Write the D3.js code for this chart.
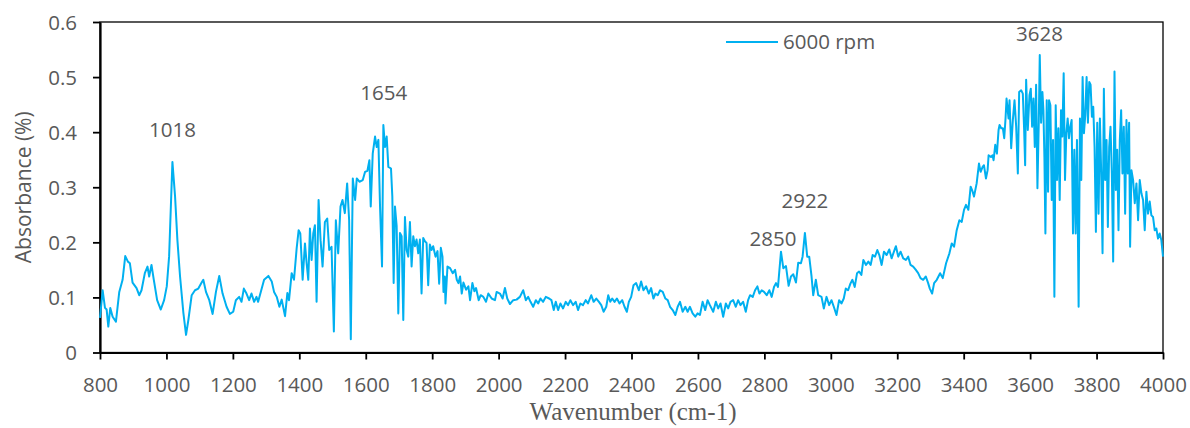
<!DOCTYPE html>
<html>
<head>
<meta charset="utf-8">
<script src="https://cdn.jsdelivr.net/npm/d3@7"></script>
<style>
	body { margin: 0; background: #fff; }
	text { font-family: "Open Sans", "Noto Sans", sans-serif; fill: #595959; }
</style>
</head>
<body>
<svg id="chart_view"></svg>
<script>
let view_width = 1190;
let view_height = 428;
let view_margin = {left: 100, right: 27, top: 22, bottom: 75.5};

let line_color = '#00B0F0';
let series_name = '6000 rpm';

// wavenumber (cm-1)
let wavenumbers = [
	800, 808, 815, 820, 825, 831, 838, 848, 858, 868, 876, 884, 890, 898, 910, 918, 925, 935, 943, 948,
	955, 962, 972, 983, 993, 1001, 1008, 1018, 1026, 1033, 1041, 1051, 1059, 1066, 1076, 1086, 1096, 1106, 1111, 1119,
	1129, 1139, 1149, 1159, 1169, 1181, 1191, 1201, 1209, 1219, 1226, 1233, 1241, 1249, 1256, 1264, 1271, 1276, 1284, 1294,
	1307, 1317, 1324, 1332, 1340, 1347, 1357, 1364, 1369, 1377, 1384, 1392, 1398, 1403, 1410, 1417, 1422, 1427, 1432, 1437,
	1442, 1447, 1452, 1458, 1464, 1470, 1477, 1484, 1490, 1497, 1504, 1510, 1517, 1524, 1530, 1537, 1544, 1550, 1555, 1561,
	1568, 1573, 1581, 1591, 1598, 1605, 1611, 1615, 1621, 1628, 1633, 1638, 1643, 1649, 1653, 1658, 1663,
	1668, 1676, 1680, 1684, 1688, 1693, 1698, 1703, 1708, 1713, 1718, 1723, 1728, 1733, 1738, 1743, 1748, 1753, 1758, 1763,
	1768, 1773, 1778, 1783, 1788, 1793, 1798, 1803, 1810, 1816, 1821, 1826, 1831, 1834, 1838,
	1840, 1846, 1854, 1862, 1869, 1874, 1879, 1884, 1889, 1894, 1902, 1909, 1914, 1921, 1927, 1932, 1940, 1946, 1954, 1962,
	1969, 1979, 1989, 1994, 2004, 2012, 2019, 2026, 2034, 2044, 2054, 2064, 2074, 2082, 2089, 2096, 2104, 2112, 2119, 2126,
	2134, 2142, 2152, 2159, 2166, 2172, 2179, 2186, 2194, 2202, 2209, 2216, 2224, 2232, 2239, 2246, 2254, 2262, 2269, 2279,
	2286, 2294, 2302, 2309, 2316, 2324, 2330, 2336, 2342, 2349, 2356, 2364, 2372, 2379, 2386, 2392, 2399, 2406, 2414, 2422,
	2429, 2436, 2444, 2452, 2459, 2466, 2472, 2479, 2486, 2494, 2502, 2509, 2516, 2524, 2532, 2539, 2546, 2554, 2562, 2569,
	2576, 2584, 2592, 2599, 2606, 2614, 2622, 2629, 2636, 2646, 2654, 2661, 2668, 2676, 2684, 2691, 2698, 2706, 2714, 2721,
	2728, 2736, 2744, 2751, 2757, 2765, 2772, 2779, 2785, 2792, 2799, 2807, 2815, 2822, 2829, 2835, 2841, 2847,
	2850, 2857, 2865, 2873, 2880, 2887, 2895, 2902, 2910, 2915, 2922, 2929, 2935, 2942, 2947, 2955, 2962, 2972, 2979, 2987,
	2995, 3002, 3009, 3017, 3025, 3032, 3039, 3045, 3052, 3059, 3065, 3072, 3079, 3085, 3092, 3098, 3106, 3113, 3120, 3126,
	3133, 3140, 3146, 3153, 3160, 3168, 3176, 3183, 3190, 3196, 3203, 3210, 3218, 3226, 3233, 3240, 3248, 3256, 3263, 3270,
	3278, 3286, 3293, 3298, 3305, 3311, 3319, 3329, 3337, 3347, 3357, 3364, 3371, 3379, 3387, 3394, 3401, 3407, 3414, 3421,
	3427, 3431, 3439, 3446, 3451, 3457, 3461, 3467, 3472, 3475, 3482, 3487, 3490, 3495, 3500, 3505, 3508, 3513, 3518, 3522,
	3526, 3529, 3535, 3538, 3543, 3548, 3553, 3558, 3563, 3567, 3573, 3578, 3582, 3585, 3588, 3593, 3598, 3602, 3606, 3610,
	3614, 3618, 3622, 3626, 3629, 3633, 3637, 3640, 3643, 3646, 3650, 3654, 3657, 3661, 3665, 3669, 3673, 3677, 3681, 3685,
	3689, 3693, 3697, 3701, 3705, 3709, 3713, 3717, 3721, 3725, 3729, 3733, 3737, 3741, 3746, 3750, 3754, 3758, 3762, 3766,
	3770, 3774, 3778, 3782, 3786, 3790, 3794, 3798, 3802, 3806, 3810, 3814, 3818, 3822, 3826, 3830, 3834, 3838, 3842, 3846,
	3850, 3854, 3858, 3862, 3866, 3870, 3874, 3878, 3882, 3886, 3890, 3894, 3898, 3901, 3905, 3910, 3915, 3920, 3925, 3930,
	3935, 3940, 3945, 3950, 3955, 3960, 3965, 3970, 3975, 3980, 3985, 3990, 3995, 4000
];

// absorbance, same order as wavenumbers
let absorbance = [
	.063, .113, .081, .078, .047, .081, .065, .056, .110, .132, .175, .165, .162, .127, .117, .104, .113, .144, .156, .138,
	.159, .132, .095, .078, .095, .120, .174, .346, .283, .204, .138, .072, .032, .059, .104, .113, .116, .127, .132, .110,
	.095, .070, .110, .139, .107, .083, .070, .074, .095, .101, .092, .116, .107, .095, .107, .092, .101, .092, .110, .132,
	.139, .129, .110, .101, .083, .096, .066, .108, .095, .144, .132, .189, .222, .216, .132, .198, .162, .132, .225, .168,
	.216, .231, .092, .277, .204, .156, .237, .243, .186, .192, .038, .240, .180, .265, .277, .253, .307, .240, .024, .316,
	.277, .316, .310, .313, .328, .330, .349, .265, .361, .392, .373, .386, .265, .156, .413, .373, .392,
	.337, .334, .283, .126, .265, .230, .071, .217, .211, .059, .246, .186, .174, .237, .156, .211, .193, .205, .180, .205,
	.107, .208, .202, .199, .122, .196, .186, .193, .174, .184, .125, .190, .174, .110, .138,
	.089, .156, .153, .144, .150, .132, .126, .138, .107, .127, .114, .120, .095, .126, .111, .117, .095, .104, .101, .092,
	.107, .098, .095, .110, .107, .098, .117, .098, .088, .095, .096, .101, .113, .095, .101, .092, .083, .095, .089, .098,
	.092, .101, .098, .095, .077, .092, .077, .089, .080, .092, .086, .095, .086, .092, .077, .089, .086, .095, .089, .104,
	.092, .098, .092, .086, .074, .083, .104, .092, .098, .092, .098, .089, .095, .083, .074, .092, .101, .122, .126, .113,
	.129, .113, .120, .107, .117, .098, .107, .104, .113, .110, .098, .095, .083, .077, .068, .083, .092, .074, .083, .074,
	.083, .071, .065, .071, .068, .092, .077, .095, .086, .074, .092, .080, .089, .065, .089, .080, .092, .095, .083, .095,
	.086, .092, .074, .095, .104, .101, .113, .120, .107, .113, .110, .104, .113, .101, .119, .126, .119, .162,
	.183, .153, .157, .121, .138, .142, .127, .163, .162, .174, .217, .174, .174, .138, .104, .132, .104, .101, .080, .101,
	.086, .095, .083, .068, .095, .089, .098, .116, .113, .125, .132, .119, .144, .147, .141, .168, .159, .165, .159, .177,
	.174, .186, .177, .159, .183, .177, .187, .171, .183, .193, .174, .183, .171, .168, .174, .159, .156, .150, .144, .135,
	.132, .138, .126, .116, .107, .126, .132, .144, .135, .162, .180, .198, .192, .222, .240, .237, .259, .268, .259, .301,
	.292, .283, .307, .343, .328, .337, .340, .316, .331, .358, .355, .358, .349, .377, .361, .404, .413, .407, .407, .389,
	.425, .461, .425, .458, .371, .422, .458, .410, .325, .473, .476, .470, .404, .340, .495, .404, .467, .479, .410, .461,
	.373, .486, .298, .417, .540, .417, .473, .440, .355, .216, .458, .292, .458, .449, .277, .386, .101, .449, .313, .407,
	.277, .440, .392, .507, .313, .398, .425, .389, .410, .422, .216, .368, .216, .386, .083, .425, .313, .500, .398, .431,
	.500, .417, .491, .486, .428, .446, .373, .219, .417, .252, .425, .325, .180, .479, .313, .386, .228, .373, .410, .325,
	.165, .510, .295, .368, .222, .386, .440, .325, .410, .252, .422, .325, .417, .192, .331, .313, .271, .307, .240, .313,
	.289, .277, .222, .292, .252, .274, .249, .246, .222, .225, .207, .216, .204, .174
];

// peak labels
let peak_labels = ['1018', '1654', '2850', '2922', '3628'];
let peak_x = [1018, 1654, 2826, 2922, 3628];
let peak_y = [0.392, 0.458, 0.193, 0.262, 0.565];

let x_ticks = d3.range(800, 4001, 200);
let y_ticks = [0, 0.1, 0.2, 0.3, 0.4, 0.5, 0.6];

let plot_width = view_width - view_margin.left - view_margin.right;
let plot_height = view_height - view_margin.top - view_margin.bottom;

let x_scale = d3.scaleLinear()
	.domain([800, 4000])
	.range([view_margin.left, view_margin.left + plot_width]);

let y_scale = d3.scaleLinear()
	.domain([0, 0.6])
	.range([view_margin.top + plot_height, view_margin.top]);

let view = d3.select('#chart_view')
	.attr('width', view_width)
	.attr('height', view_height);

// frame on top and right
view.append('rect')
	.attr('x', view_margin.left)
	.attr('y', view_margin.top)
	.attr('width', plot_width)
	.attr('height', plot_height)
	.attr('fill', 'none')
	.attr('stroke', '#000')
	.attr('stroke-width', 1.3);

let x_axis = view.append('g')
	.attr('transform', `translate(0, ${view_margin.top + plot_height})`)
	.call(d3.axisBottom(x_scale).tickValues(x_ticks).tickSize(7).tickSizeOuter(0).tickFormat(d3.format('d')));

let y_axis = view.append('g')
	.attr('transform', `translate(${view_margin.left}, 0)`)
	.call(d3.axisLeft(y_scale).tickValues(y_ticks).tickSize(7).tickSizeOuter(0).tickFormat(d => d === 0 ? '0' : d3.format('.1f')(d)));

[x_axis, y_axis].forEach(function(ax) {
	ax.select('.domain').attr('stroke', '#000').attr('stroke-width', 2.2);
	ax.selectAll('.tick line').attr('stroke', '#000').attr('stroke-width', 1.8);
	ax.selectAll('.tick text')
		.attr('font-family', '"Open Sans", sans-serif')
		.attr('font-size', 20.5)
		.attr('fill', '#595959');
});
x_axis.selectAll('.tick text').attr('dy', null).attr('y', 39);
y_axis.selectAll('.tick text').attr('x', -23).attr('dy', '0.36em');

// spectrum
let points = wavenumbers.map((w, i) => [w, absorbance[i]]);
let spectrum_line = d3.line()
	.x(d => x_scale(d[0]))
	.y(d => y_scale(d[1]));

view.append('path')
	.datum(points)
	.attr('d', spectrum_line)
	.attr('fill', 'none')
	.attr('stroke', line_color)
	.attr('stroke-width', 2)
	.attr('stroke-linejoin', 'round');

// peak annotations
view.selectAll('.peak-label')
	.data(peak_labels)
	.enter()
	.append('text')
	.attr('class', 'peak-label')
	.attr('x', (d, i) => x_scale(peak_x[i]))
	.attr('y', (d, i) => y_scale(peak_y[i]))
	.attr('text-anchor', 'middle')
	.attr('font-size', 20.5)
	.text(d => d);

// legend
view.append('line')
	.attr('x1', 726)
	.attr('x2', 778)
	.attr('y1', 42)
	.attr('y2', 42)
	.attr('stroke', line_color)
	.attr('stroke-width', 2);

view.append('text')
	.attr('x', 783)
	.attr('y', 49)
	.attr('font-size', 20.5)
	.text(series_name);

// axis titles
view.append('text')
	.attr('transform', `translate(31, ${view_margin.top + plot_height / 2}) rotate(-90)`)
	.attr('text-anchor', 'middle')
	.attr('font-size', 21)
	.text('Absorbance (%)');

view.append('text')
	.attr('x', 633)
	.attr('y', 420)
	.attr('text-anchor', 'middle')
	.style('font-family', '"Liberation Serif", "Times New Roman", serif')
	.attr('font-size', 25)
	.text('Wavenumber (cm-1)');
</script>
</body>
</html>
